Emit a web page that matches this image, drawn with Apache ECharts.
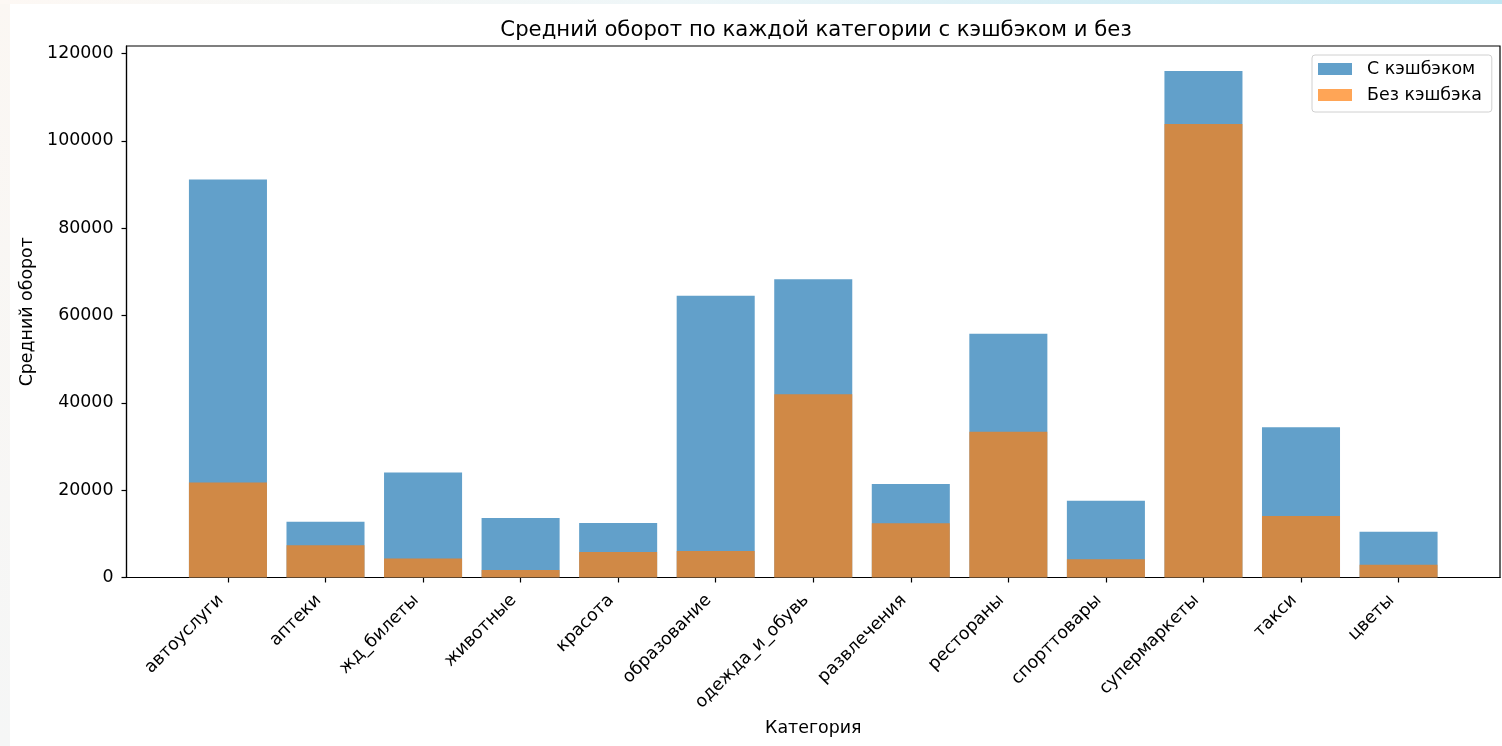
<!DOCTYPE html>
<html>
<head>
<meta charset="utf-8">
<script src="https://cdn.jsdelivr.net/npm/echarts@6/dist/echarts.min.js"></script>
<style>
  html, body { margin: 0; padding: 0; }
  body {
    width: 1502px; height: 746px; overflow: hidden; position: relative;
    background: linear-gradient(180deg, #fbf7f3 0%, #f5f6f6 100%);
  }
  #topstrip { position: absolute; left: 0; top: 0; width: 1502px; height: 4px;
    background: linear-gradient(90deg, #fdf8f4 0%, #eef6f8 45%, #bfe6f2 100%); }
  #panel { position: absolute; left: 10px; top: 4px; width: 1492px; height: 742px; background: #ffffff; }
  #chart { position: absolute; left: 0; top: 0; width: 1502px; height: 746px; }
</style>
</head>
<body>
<div id="topstrip"></div>
<div id="panel"></div>
<div id="chart"></div>
<script>
const categories = ['автоуслуги','аптеки','жд_билеты','животные','красота','образование','одежда_и_обувь','развлечения','рестораны','спорттовары','супермаркеты','такси','цветы'];
const withCashback = [91150, 12780, 24050, 13620, 12480, 64520, 68270, 21410, 55820, 17590, 116000, 34390, 10490];
const withoutCashback = [21750, 7370, 4330, 1720, 5840, 6070, 41940, 12400, 33400, 4160, 103820, 14100, 2930];
const yTicks = [0, 20000, 40000, 60000, 80000, 100000, 120000];
const seriesNames = ['С кэшбэком', 'Без кэшбэка'];
const titleText = 'Средний оборот по каждой категории с кэшбэком и без';
const xName = 'Категория';
const yName = 'Средний оборот';

const FONT = 'DejaVu Sans';
const FS = 17.4;
const gridLeft = 126.5, gridRight = 2, gridTop = 46, gridBottom = 168.5;
const xMin = -1.04, xMax = 13.04;
const plotW = 1502 - gridLeft - gridRight;
const barW = 0.8 * plotW / (xMax - xMin);
const catIdx = categories.map((_, i) => i);

const chart = echarts.init(document.getElementById('chart'), null, { renderer: 'canvas' });
chart.setOption({
  backgroundColor: 'transparent',
  animation: false,
  title: {
    text: titleText,
    left: 811,
    textAlign: 'center',
    top: 15,
    textStyle: { fontFamily: FONT, fontSize: 21.2, fontWeight: 'normal', color: '#000' }
  },
  legend: {
    orient: 'vertical',
    left: 1312, top: 55,
    padding: [4, 10, 7, 6],
    itemGap: 6,
    itemWidth: 34, itemHeight: 12,
    backgroundColor: 'rgba(255,255,255,0.8)',
    borderColor: '#d0d0d0', borderWidth: 1, borderRadius: 3,
    icon: 'rect',
    textStyle: { fontFamily: FONT, fontSize: FS, color: '#000', lineHeight: 20, padding: [0, 0, 0, 10] },
    data: seriesNames
  },
  grid: {
    left: gridLeft, right: gridRight, top: gridTop, bottom: gridBottom,
    show: true, borderColor: '#000', borderWidth: 1.2, backgroundColor: 'transparent'
  },
  xAxis: {
    type: 'value',
    min: xMin, max: xMax,
    name: xName,
    nameLocation: 'middle',
    nameGap: 142,
    nameTextStyle: { fontFamily: FONT, fontSize: FS, color: '#000' },
    axisLine: { show: true, onZero: false, lineStyle: { color: '#000', width: 1.2 } },
    axisTick: { show: true, length: 5, customValues: catIdx, lineStyle: { color: '#000', width: 1.2 } },
    axisLabel: {
      customValues: catIdx,
      rotate: 45,
      margin: 13,
      padding: [0, 10, 0, 0],
      fontFamily: FONT, fontSize: FS, color: '#000',
      formatter: v => categories[Math.round(v)] || ''
    },
    splitLine: { show: false }
  },
  yAxis: {
    type: 'value',
    min: 0, max: 121700,
    name: yName,
    nameLocation: 'middle',
    nameGap: 84,
    nameTextStyle: { fontFamily: FONT, fontSize: FS, color: '#000' },
    axisLine: { show: true, onZero: false, lineStyle: { color: '#000', width: 1.2 } },
    axisTick: { show: true, length: 5, customValues: yTicks, lineStyle: { color: '#000', width: 1.2 } },
    axisLabel: { customValues: yTicks, margin: 13, fontFamily: FONT, fontSize: FS, color: '#000',
      formatter: v => String(v) },
    splitLine: { show: false }
  },
  series: [
    {
      name: seriesNames[0], type: 'bar',
      data: withCashback.map((v, i) => [i, v]),
      barWidth: barW, barGap: '-100%',
      itemStyle: { color: '#1f77b4', opacity: 0.7 }
    },
    {
      name: seriesNames[1], type: 'bar',
      data: withoutCashback.map((v, i) => [i, v]),
      barWidth: barW, barGap: '-100%',
      itemStyle: { color: '#ff7f0e', opacity: 0.7 }
    }
  ]
});
</script>
</body>
</html>
